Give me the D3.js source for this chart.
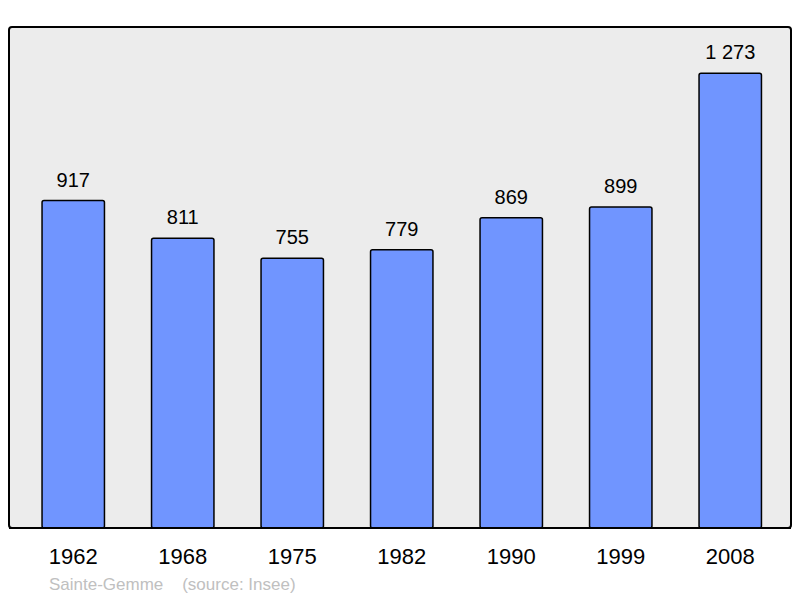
<!DOCTYPE html>
<html><head><meta charset="utf-8">
<script src="https://cdn.jsdelivr.net/npm/d3@7"></script>
<style>body{margin:0;background:#fff;}svg{display:block;font-family:"Liberation Sans",Arial,sans-serif;}</style>
</head><body>
<svg id="c" width="800" height="598"></svg>
<script>
const years = ["1962","1968","1975","1982","1990","1999","2008"];
const population = [917, 811, 755, 779, 869, 899, 1273];
const commune = "Sainte-Gemme";
const source = "(source: Insee)";

const svg = d3.select("#c");
const x = d3.scaleBand().domain(years).range([18.5, 785]).paddingInner(0.43).paddingOuter(0.215);
const y = d3.scaleLinear().domain([0, 1400]).range([528, 28]);
const fmt = v => d3.format(",")(v).replace(/,/g, " ");

svg.append("rect").attr("x", 9).attr("y", 27).attr("width", 782).attr("height", 501)
  .attr("rx", 3).attr("fill", "#ececec").attr("stroke", "#000").attr("stroke-width", 2);

svg.selectAll("rect.bar").data(years).enter().append("rect").attr("class", "bar")
  .attr("x", d => x(d)).attr("width", x.bandwidth())
  .attr("y", (d, i) => y(population[i])).attr("height", (d, i) => y(0) - y(population[i]))
  .attr("rx", 2).attr("fill", "#7095ff").attr("stroke", "#000").attr("stroke-width", 1.5);

svg.append("line").attr("x1", 9).attr("x2", 791).attr("y1", 528).attr("y2", 528).attr("stroke", "#000").attr("stroke-width", 2);

svg.selectAll("text.val").data(years).enter().append("text").attr("class", "val")
  .attr("x", d => x(d) + x.bandwidth() / 2).attr("y", (d, i) => y(population[i]) - 14)
  .attr("text-anchor", "middle").attr("font-size", 20).attr("fill", "#000")
  .text((d, i) => fmt(population[i]));

svg.selectAll("text.yr").data(years).enter().append("text").attr("class", "yr")
  .attr("x", d => x(d) + x.bandwidth() / 2).attr("y", 564)
  .attr("text-anchor", "middle").attr("font-size", 22).attr("fill", "#000")
  .text(d => d);

svg.append("text").attr("x", 49).attr("y", 590).attr("font-size", 17).attr("fill", "#c0c0c0")
  .attr("xml:space", "preserve").text(commune + "    " + source);
</script>
</body></html>
